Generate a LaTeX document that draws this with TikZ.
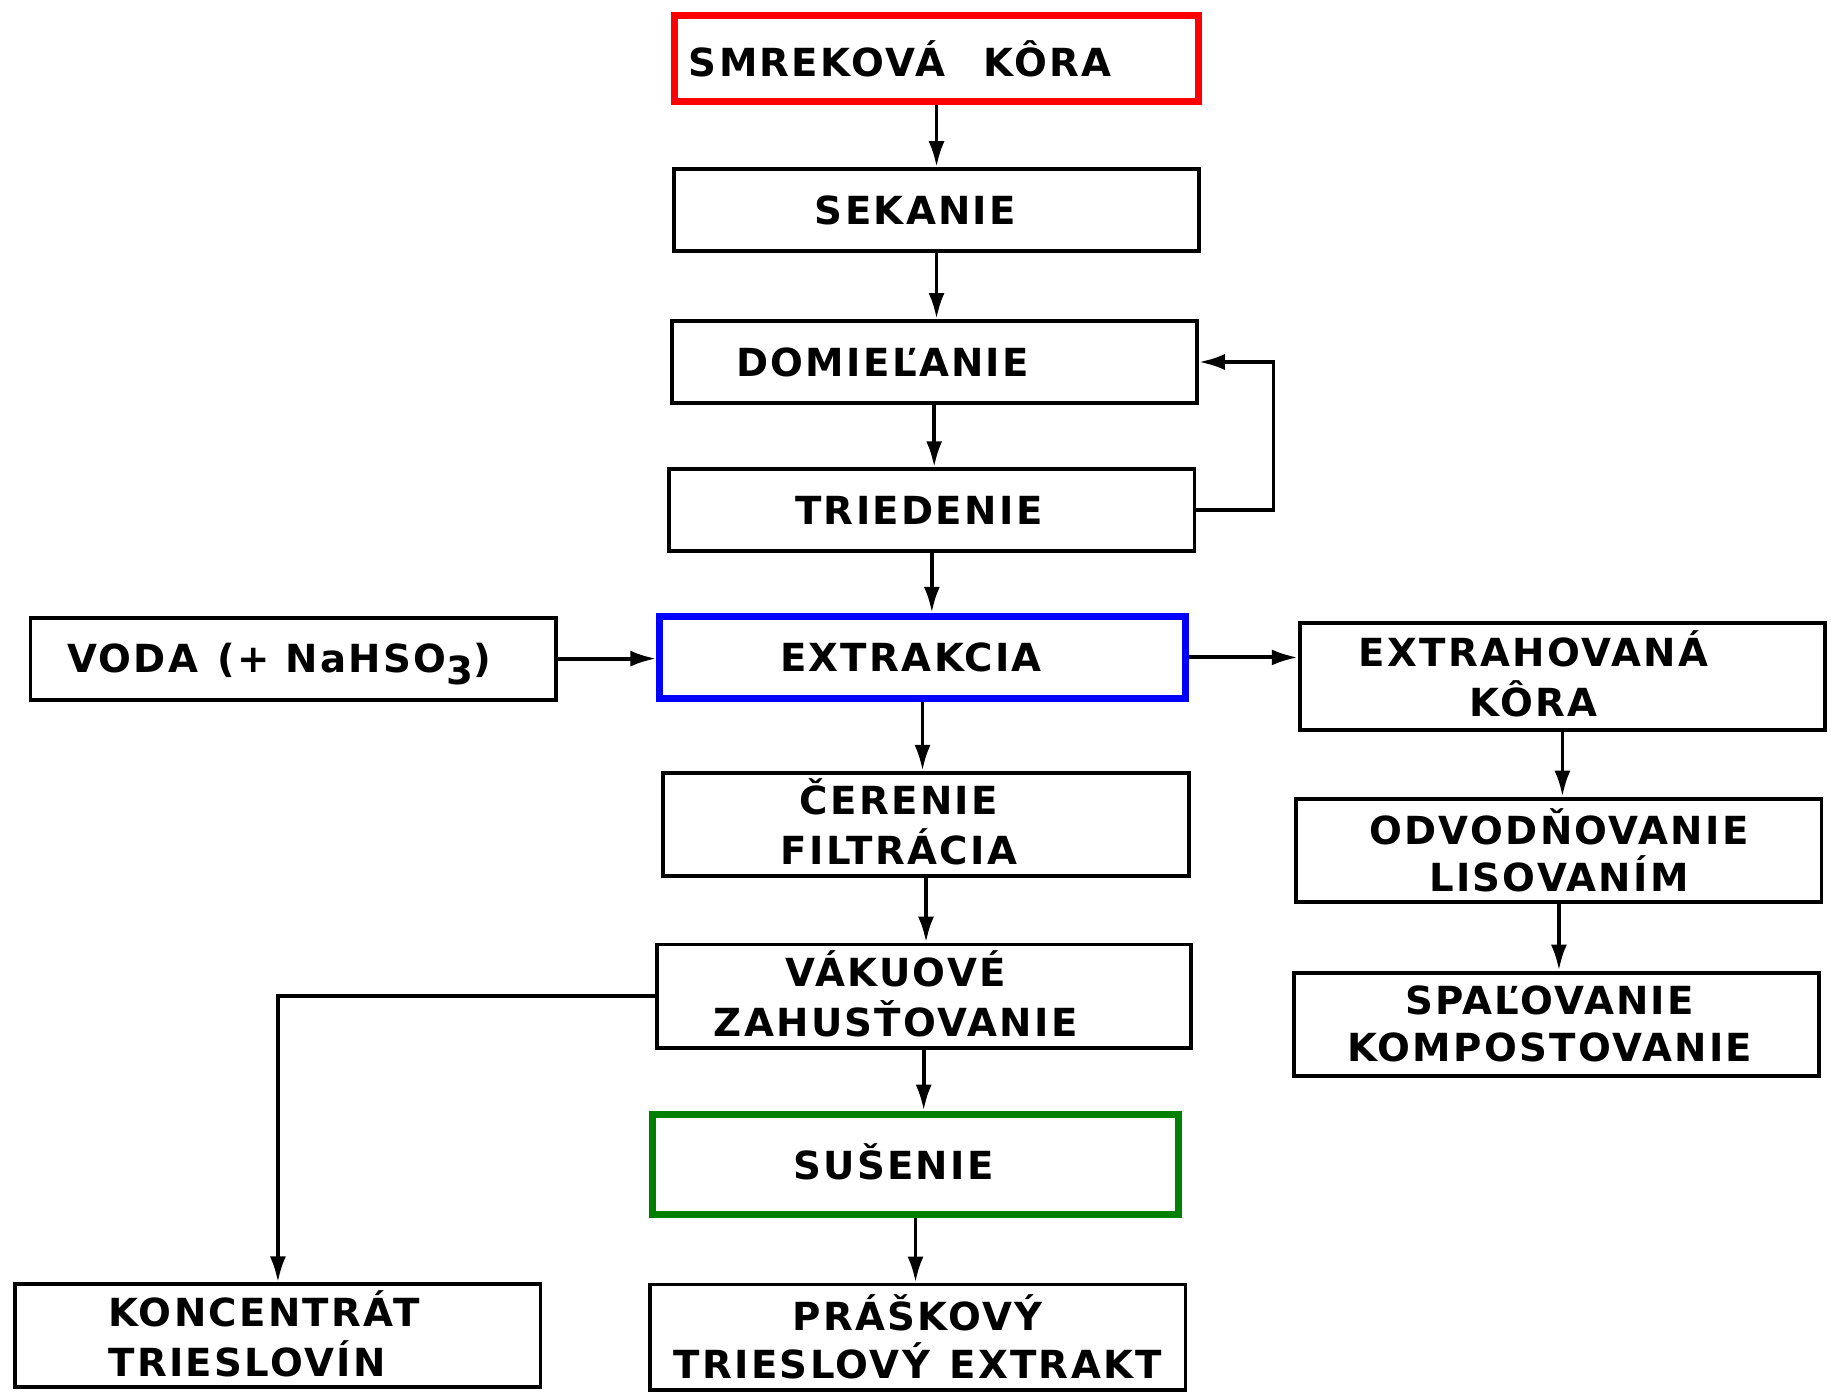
\documentclass[tikz,border=0pt]{standalone}
\usepackage{fontspec}
\setmainfont{DejaVu Sans}[LetterSpace=6]
\usetikzlibrary{arrows.meta,positioning}

% text v bloku posunuty dolava
\newcommand{\posun}[3][c]{\hspace*{-#2}\raisebox{-1.3pt}[\height][\depth]{\begin{tabular}{@{}#1@{}}#3\end{tabular}}}

\tikzset{
	blok/.style={draw, line width=1.1pt, minimum width=5.25cm, minimum height=0.82cm,
		inner xsep=2pt, inner ysep=0pt, align=center, font={\fontsize{11pt}{13.5pt}\selectfont\bfseries}},
	blok2/.style={blok, minimum height=1.03cm},
	sip/.style={line width=1.1pt, -{Latex[length=2.6mm,width=1.6mm]}}
}

\begin{document}
\begin{tikzpicture}[x=0.01168cm, y=-0.01168cm]
	\useasboundingbox (0,0) rectangle (1568,1195);

	\node[blok, draw=red, line width=2pt, minimum width=5.23cm, minimum height=0.86cm,
		text width=4.95cm, align=left] (smrek) at (802,50) {SMREKOVÁ\quad KÔRA};
	\node[blok] (sekanie) at (802,180) {\posun{0.42cm}{SEKANIE}};
	\node[blok] (domiel) at (800,310) {\posun{1.03cm}{DOMIEĽANIE}};
	\node[blok] (tried) at (798,437) {\posun{0.26cm}{TRIEDENIE}};
	\node[blok, draw=blue, line width=2pt] (extr) at (790,563) {\posun{0.23cm}{EXTRAKCIA}};
	\node[blok] (voda) at (251,564) {\posun{0.28cm}{VODA\enspace(+ NaHSO\raisebox{-0.55ex}{3})}};
	\node[blok2, minimum height=1.07cm] (extrah) at (1338,579) {\posun{0.58cm}{EXTRAHOVANÁ\\KÔRA}};

	\node[blok2] (ceren) at (793,706) {\posun{0.54cm}{ČERENIE\\FILTRÁCIA}};
	\node[blok2] (odvod) at (1335,728) {ODVODŇOVANIE\\LISOVANÍM};
	\node[blok2, minimum width=5.34cm] (vakuo) at (791,853) {\posun{0.56cm}{VÁKUOVÉ\\ZAHUSŤOVANIE}};
	\node[blok2] (spal) at (1333,877) {\posun{0.14cm}{SPAĽOVANIE\\KOMPOSTOVANIE}};
	\node[blok2, draw=green!50!black, line width=2pt, minimum height=1cm] (susen) at (784,997) {\posun{0.44cm}{SUŠENIE}};
	\node[blok2] (konc) at (238,1144) {\posun[l]{0.28cm}{KONCENTRÁT\\TRIESLOVÍN}};
	\node[blok2, minimum width=5.35cm, minimum height=1.05cm] (prask) at (786,1145) {PRÁŠKOVÝ\\TRIESLOVÝ\enspace EXTRAKT};

	% hlavna vetva
	\draw[sip] (smrek.south) -- (smrek.south |- sekanie.north);
	\draw[sip] (sekanie.south) -- (sekanie.south |- domiel.north);
	\draw[sip] (domiel.south) -- (domiel.south |- tried.north);
	\draw[sip] (tried.south) -- (tried.south |- extr.north);
	\draw[sip] (tried.east) -- ++(66,0) |- (domiel.east);
	\draw[sip] (voda.east) -- (voda.east -| extr.west);
	\draw[sip] (extr.east) -- (extr.east -| extrah.west);
	\draw[sip] (extr.south) -- (extr.south |- ceren.north);
	\draw[sip] (ceren.south) -- (ceren.south |- vakuo.north);
	\draw[sip] (vakuo.south) -- (vakuo.south |- susen.north);
	\draw[sip] (susen.south) -- (susen.south |- prask.north);
	\draw[sip] (vakuo.west) -| (konc.north);

	% kora
	\draw[sip] (extrah.south) -- (extrah.south |- odvod.north);
	\draw[sip] (odvod.south) -- (odvod.south |- spal.north);
\end{tikzpicture}
\end{document}
